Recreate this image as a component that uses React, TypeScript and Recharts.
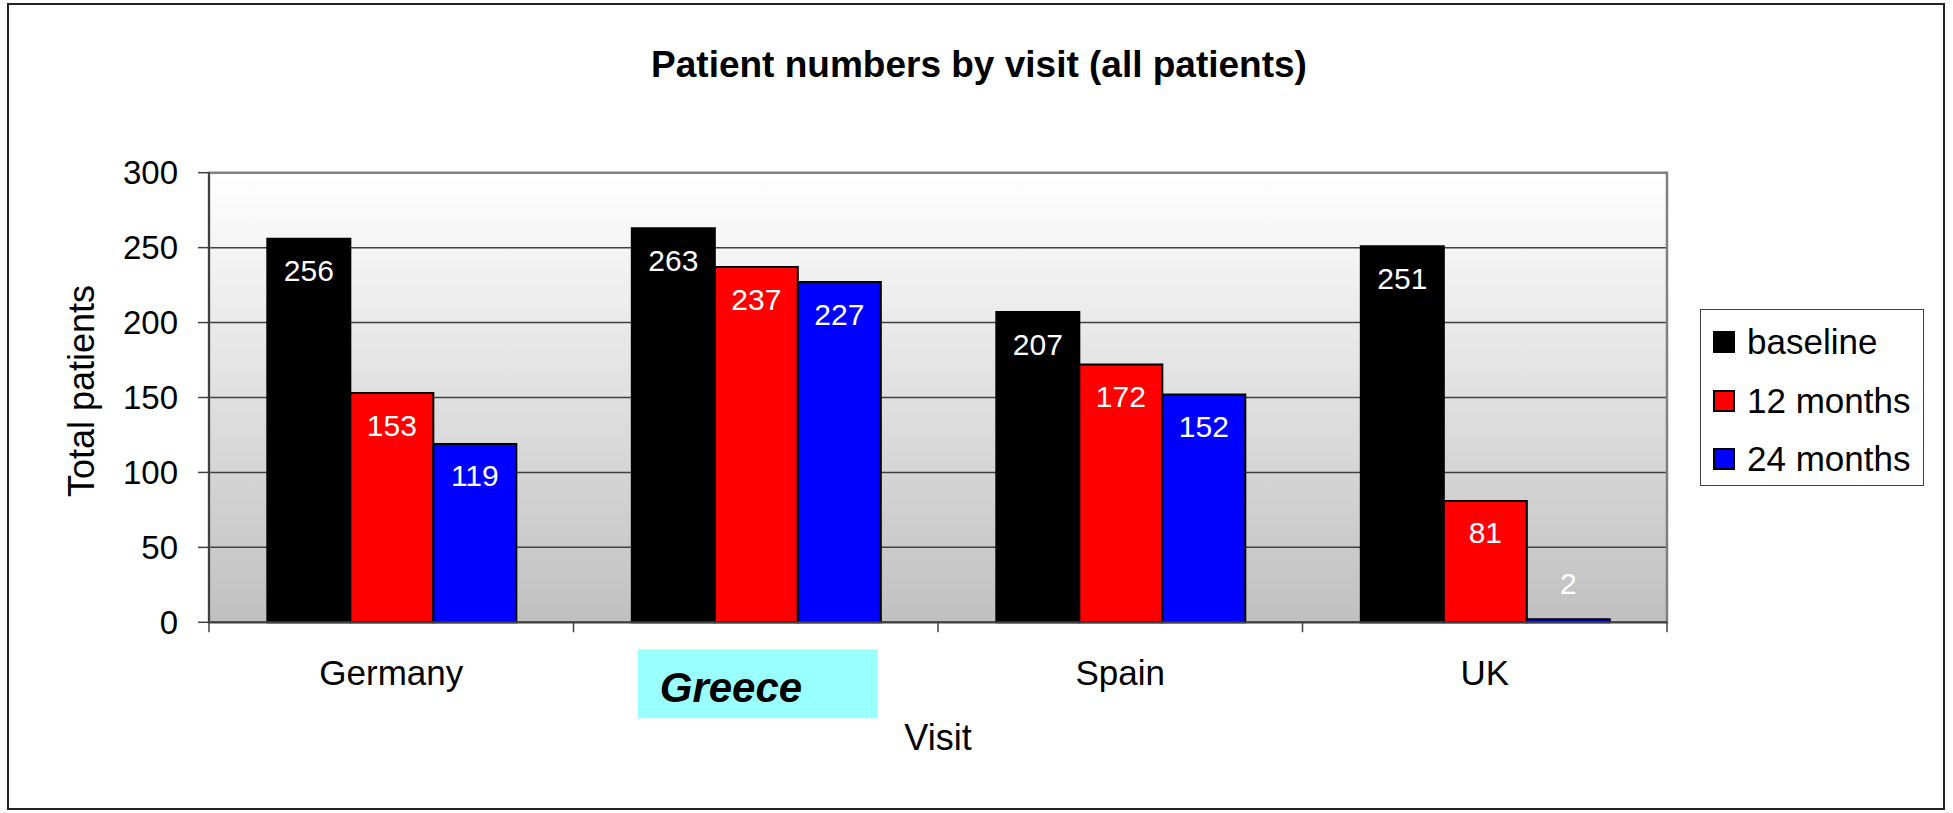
import React from "react";
import {
  BarChart,
  Bar,
  XAxis,
  YAxis,
  CartesianGrid,
  Legend,
  LabelList,
  ReferenceArea,
} from "recharts";

// chart values
const countries = ["Germany", "Greece", "Spain", "UK"];
const baselineValues = [256, 263, 207, 251];
const months12Values = [153, 237, 172, 81];
const months24Values = [119, 227, 152, 2];
const seriesOrder = ["baseline", "12 months", "24 months"];
const yTicks = [0, 50, 100, 150, 200, 250, 300];
const highlighted = ["Greece"];

const data = countries.map((c, i) => ({
  country: c,
  baseline: baselineValues[i],
  m12: months12Values[i],
  m24: months24Values[i],
}));

const FONT = '"Liberation Sans", Arial, Helvetica, sans-serif';

// x tick: label at category centre, tick marks at category boundaries
const CountryTick = (props: any) => {
  const { x, y, payload, index } = props;
  const half = payload?.offset || 182;
  const isLast = index === countries.length - 1;
  const hl = highlighted.includes(payload.value);
  return (
    <g>
      <line x1={x - half} y1={y} x2={x - half} y2={y + 10} stroke="#404040" strokeWidth={1.5} />
      {isLast && (
        <line x1={x + half} y1={y} x2={x + half} y2={y + 10} stroke="#404040" strokeWidth={1.5} />
      )}
      {hl && <rect x={x - 118} y={y + 27} width={240} height={69} fill="#99FFFF" />}
      <text
        x={hl ? x - 96 : x}
        y={hl ? y + 80 : y + 63}
        textAnchor={hl ? "start" : "middle"}
        fontSize={hl ? 42 : 35}
        fontWeight={hl ? "bold" : "normal"}
        fontStyle={hl ? "italic" : "normal"}
        fontFamily={FONT}
        fill="#000"
      >
        {payload.value}
      </text>
    </g>
  );
};

// value labels: white, inside the top of the bar (above it when too short)
const ValueLabel = (props: any) => {
  const { x, y, width, height, value } = props;
  const inside = height > 45;
  return (
    <text
      x={x + width / 2}
      y={inside ? y + 32 : y - 36}
      fill="#ffffff"
      fontSize={30}
      fontFamily={FONT}
      textAnchor="middle"
      dominantBaseline="central"
    >
      {value}
    </text>
  );
};

const LegendBox = (props: any) => {
  const items = [...(props.payload || [])].sort(
    (a: any, b: any) => seriesOrder.indexOf(a.value) - seriesOrder.indexOf(b.value)
  );
  return (
    <div
      style={{
        width: 224,
        height: 177,
        border: "1.5px solid #404040",
        boxSizing: "border-box",
        background: "#fff",
        position: "relative",
      }}
    >
      {items.map((p: any, i: number) => (
        <div
          key={p.value}
          style={{
            position: "absolute",
            left: 12,
            top: 20 + i * 58.5,
            height: 24,
            display: "flex",
            alignItems: "center",
          }}
        >
          <span
            style={{
              display: "inline-block",
              width: 22,
              height: 22,
              background: p.color,
              border: "2px solid #000",
              boxSizing: "border-box",
            }}
          />
          <span
            style={{
              marginLeft: 12,
              fontSize: 35,
              fontFamily: FONT,
              color: "#000",
              lineHeight: "24px",
              whiteSpace: "nowrap",
            }}
          >
            {p.value}
          </span>
        </div>
      ))}
    </div>
  );
};

export default function App() {
  return (
    <div
      style={{
        position: "absolute",
        left: 0,
        top: 0,
        width: 1953,
        height: 813,
        background: "#fff",
        fontFamily: FONT,
      }}
    >
      <div
        style={{
          position: "absolute",
          left: 7,
          top: 3,
          width: 1938,
          height: 807,
          border: "2px solid #222",
          boxSizing: "border-box",
        }}
      />
      <div
        style={{
          position: "absolute",
          left: 0,
          top: 46,
          width: 1958,
          textAlign: "center",
          fontSize: 37,
          lineHeight: "37px",
          fontWeight: "bold",
          color: "#000",
        }}
      >
        Patient numbers by visit (all patients)
      </div>

      <BarChart
        width={1953}
        height={813}
        data={data}
        margin={{ top: 172.7, right: 286, bottom: 130.7, left: 89 }}
        barGap={0}
        barCategoryGap="16%"
        style={{ position: "absolute", left: 0, top: 0 }}
      >
        <defs>
          <linearGradient id="plotBg" x1="0" y1="0" x2="0" y2="1">
            <stop offset="0%" stopColor="#ffffff" />
            <stop offset="100%" stopColor="#c0c0c0" />
          </linearGradient>
        </defs>

        <CartesianGrid
          vertical={false}
          stroke="#404040"
          strokeWidth={1.5}
          fill="url(#plotBg)"
          fillOpacity={1}
        />

        <ReferenceArea
          y1={0}
          y2={300}
          fill="none"
          stroke="#808080"
          strokeWidth={2.5}
          ifOverflow="visible"
        />

        <XAxis
          dataKey="country"
          height={60}
          interval={0}
          tickSize={0}
          tickMargin={0}
          tickLine={false}
          axisLine={{ stroke: "#404040", strokeWidth: 2 }}
          tick={<CountryTick />}
          label={{
            content: (p: any) => {
              const vb = p.viewBox || { x: 209, y: 622, width: 1458 };
              return (
                <text
                  x={vb.x + vb.width / 2}
                  y={vb.y + 128}
                  textAnchor="middle"
                  fontSize={36}
                  fontFamily={FONT}
                  fill="#000"
                >
                  Visit
                </text>
              );
            },
          }}
        />

        <YAxis
          width={120}
          domain={[0, 300]}
          ticks={yTicks}
          interval={0}
          tickSize={11}
          tickMargin={20}
          axisLine={{ stroke: "#404040", strokeWidth: 2 }}
          tickLine={{ stroke: "#404040", strokeWidth: 1.5 }}
          tick={{ fontSize: 33, fill: "#000", fontFamily: FONT }}
          label={{
            content: () => (
              <text
                x={81}
                y={391}
                transform="rotate(-90 81 391)"
                textAnchor="middle"
                dominantBaseline="central"
                fontSize={36}
                fontFamily={FONT}
                fill="#000"
              >
                Total patients
              </text>
            ),
          }}
        />

        <Legend
          layout="horizontal"
          align="center"
          verticalAlign="middle"
          wrapperStyle={{ left: 1700, top: 309, width: 224, height: 177 }}
          content={<LegendBox />}
        />

        <Bar dataKey="baseline" name="baseline" fill="#000000" stroke="#000" strokeWidth={2} isAnimationActive={false}>
          <LabelList dataKey="baseline" content={<ValueLabel />} />
        </Bar>
        <Bar dataKey="m12" name="12 months" fill="#ff0000" stroke="#000" strokeWidth={2} isAnimationActive={false}>
          <LabelList dataKey="m12" content={<ValueLabel />} />
        </Bar>
        <Bar dataKey="m24" name="24 months" fill="#0000ff" stroke="#000" strokeWidth={2} isAnimationActive={false}>
          <LabelList dataKey="m24" content={<ValueLabel />} />
        </Bar>
      </BarChart>
    </div>
  );
}
